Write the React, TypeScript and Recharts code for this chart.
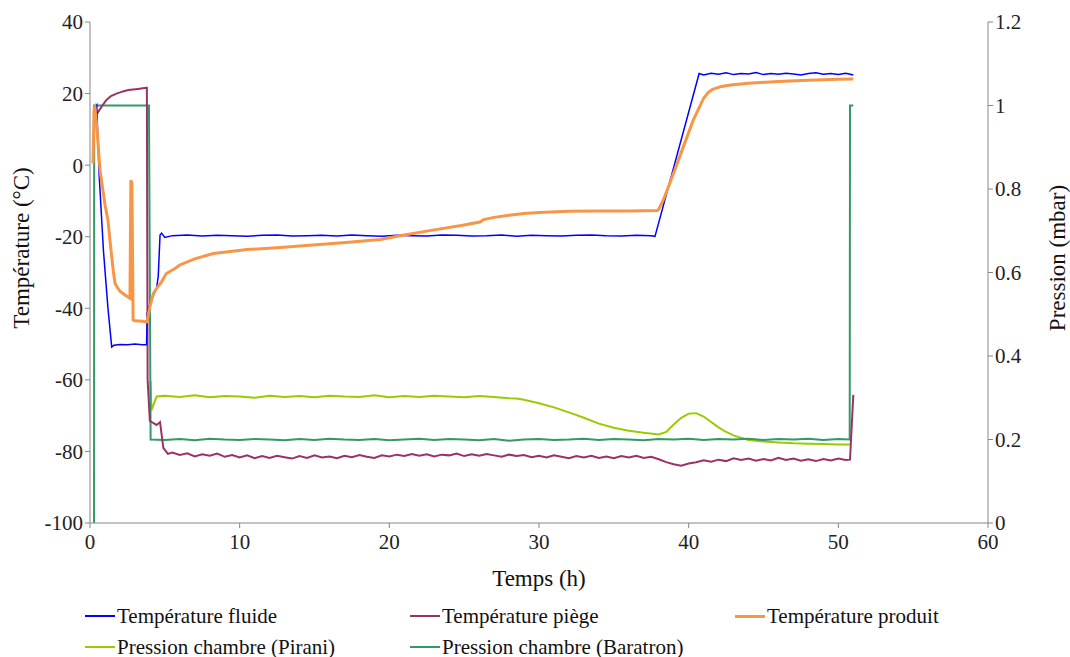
import React from "react";
import { LineChart, Line, XAxis, YAxis } from "recharts";

// [temps (h), valeur]
const fluide: [number, number][] = [
  [0.4, 16.5], [0.45, 16.8], [0.6, -2], [0.9, -24], [1.2, -40], [1.45, -50.8], [1.6, -50.3],
  [2.0, -50.1], [2.5, -50.2], [3.0, -50.0], [3.5, -50.2], [3.78, -50.2], [3.82, -41.5],
  [4.0, -38.7], [4.23, -36.4], [4.45, -34.5], [4.56, -31], [4.68, -19.5], [4.78, -19.0],
  [5.0, -20.2], [5.5, -19.7], [6.5, -19.5], [7.5, -19.8], [8.5, -19.6], [9.5, -19.7],
  [10.5, -19.9], [11.5, -19.6], [12.5, -19.5], [13.5, -19.8], [14.5, -19.7], [15.5, -19.6],
  [16.5, -19.8], [17.5, -19.5], [18.5, -19.7], [19.5, -19.9], [20.5, -19.6], [21.5, -19.7],
  [22.5, -19.8], [23.5, -19.5], [24.5, -19.6], [25.5, -19.8], [26.5, -19.7], [27.5, -19.5],
  [28.5, -19.9], [29.5, -19.6], [30.5, -19.7], [31.5, -19.8], [32.5, -19.6], [33.5, -19.5],
  [34.5, -19.7], [35.5, -19.8], [36.5, -19.6], [37.5, -19.7], [37.75, -19.9],
  [40.7, 25.6], [41, 25.2], [41.5, 25.7], [42, 25.4], [42.5, 25.8], [43, 25.3], [43.5, 25.6],
  [44, 25.5], [44.5, 25.9], [45, 25.3], [45.5, 25.6], [46, 25.4], [46.5, 25.7], [47, 25.5],
  [47.5, 25.2], [48, 25.6], [48.5, 25.8], [49, 25.4], [49.5, 25.6], [50, 25.3], [50.5, 25.7],
  [51, 25.2],
];

const piege: [number, number][] = [
  [0.47, 14.4], [0.8, 16.5], [1.1, 18.2], [1.4, 19.3], [1.77, 20.0], [2.2, 20.6], [2.56, 21.0],
  [3.2, 21.3], [3.74, 21.6], [3.8, 21.6], [3.85, -60], [4.0, -71.5], [4.45, -72.6],
  [4.68, -71.8], [4.9, -79], [5.2, -80.7], [5.5, -80.3], [6, -81.0], [6.5, -80.5], [7, -81.4],
  [7.5, -80.8], [8, -81.2], [8.5, -80.6], [9, -81.5], [9.5, -81.0], [10, -81.7], [10.5, -81.1],
  [11, -81.9], [11.5, -81.3], [12, -81.8], [12.5, -81.2], [13, -81.6], [13.5, -82.0],
  [14, -81.3], [14.5, -81.8], [15, -81.1], [15.5, -81.7], [16, -81.4], [16.5, -81.9],
  [17, -81.2], [17.5, -81.6], [18, -81.0], [18.5, -81.5], [19, -81.8], [19.5, -81.1],
  [20, -81.4], [20.5, -80.9], [21, -81.3], [21.5, -80.7], [22, -81.2], [22.5, -80.8],
  [23, -81.4], [23.5, -80.9], [24, -81.1], [24.5, -80.6], [25, -81.3], [25.5, -80.8],
  [26, -81.2], [26.5, -80.7], [27, -81.1], [27.5, -81.5], [28, -80.9], [28.5, -81.3],
  [29, -81.0], [29.5, -81.6], [30, -81.2], [30.5, -81.7], [31, -81.1], [31.5, -81.5],
  [32, -81.9], [32.5, -81.3], [33, -81.7], [33.5, -81.2], [34, -81.8], [34.5, -81.4],
  [35, -81.9], [35.5, -81.3], [36, -81.7], [36.5, -81.2], [37, -81.8], [37.5, -81.5],
  [38, -82.2], [38.5, -83.0], [39, -83.6], [39.5, -84.0], [40, -83.4], [40.5, -83.0],
  [41, -82.5], [41.5, -82.9], [42, -82.3], [42.5, -82.7], [43, -81.9], [43.5, -82.4],
  [44, -82.0], [44.5, -82.6], [45, -82.1], [45.5, -82.5], [46, -81.8], [46.5, -82.4],
  [47, -82.0], [47.5, -82.6], [48, -82.2], [48.5, -82.7], [49, -82.1], [49.5, -82.5],
  [50, -82.0], [50.5, -82.4], [50.78, -82.3], [51.0, -64.2],
];

const produit: [number, number][] = [
  [0.2, 0.5], [0.27, 15.5], [0.33, 16], [0.45, 11], [0.67, -1.4], [1.0, -11], [1.2, -15.4],
  [1.4, -23.7], [1.55, -29.3], [1.67, -33], [1.8, -34], [2.0, -35.2], [2.34, -36.3],
  [2.67, -37.2], [2.73, -4.2], [2.8, -5], [2.88, -43.3], [3.0, -43.5], [3.5, -43.6],
  [3.8, -43.8], [4.0, -39.6], [4.23, -35.9], [4.45, -34.4], [4.78, -32.6], [5.1, -30.3],
  [5.68, -28.9], [6.0, -27.9], [7.0, -26.2], [8.24, -24.7], [10.5, -23.6], [12.7, -23],
  [14.9, -22.3], [17.1, -21.6], [19.4, -20.8], [20.9, -19.6], [22.7, -18.3], [24.9, -16.8],
  [26.05, -15.9], [26.3, -15.2], [27, -14.6], [28, -14.0], [29, -13.5], [30, -13.2],
  [32, -12.9], [34, -12.8], [36, -12.8], [37.9, -12.7], [38.0, -12.3], [38.3, -9.8],
  [38.7, -5.5], [39.5, 3.5], [40.3, 12.5], [41.0, 18.7], [41.3, 20.3], [41.6, 21.2],
  [42.2, 22], [42.8, 22.4], [44, 22.9], [46, 23.4], [48, 23.7], [50, 24], [51, 24.1],
];

const pirani: [number, number][] = [
  [4.05, 0.34], [4.1, 0.27], [4.45, 0.303], [5, 0.305], [6, 0.302], [7, 0.306], [8, 0.301],
  [9, 0.304], [10, 0.303], [11, 0.3], [12, 0.305], [13, 0.302], [14, 0.304], [15, 0.301],
  [16, 0.305], [17, 0.303], [18, 0.302], [19, 0.306], [20, 0.301], [21, 0.304], [22, 0.302],
  [23, 0.305], [24, 0.303], [25, 0.301], [26, 0.304], [27, 0.302], [28, 0.299],
  [28.5, 0.298], [29, 0.295], [30, 0.287], [31, 0.277], [32, 0.265], [33, 0.252],
  [34, 0.238], [35, 0.228], [36, 0.221], [37, 0.216], [38, 0.212], [38.5, 0.218],
  [39, 0.236], [39.5, 0.252], [40, 0.262], [40.5, 0.263], [41, 0.255], [41.5, 0.242],
  [42, 0.229], [42.5, 0.218], [43, 0.21], [43.5, 0.204], [44, 0.199], [45, 0.195],
  [46, 0.193], [47, 0.191], [48, 0.19], [49, 0.189], [50, 0.188], [50.76, 0.188],
];

const baratron: [number, number][] = [
  [0.27, 0], [0.28, 1.0], [3.94, 1.0], [4.05, 0.2], [5, 0.199], [6, 0.201], [7, 0.198],
  [8, 0.202], [9, 0.2], [10, 0.199], [11, 0.201], [12, 0.2], [13, 0.198], [14, 0.201],
  [15, 0.199], [16, 0.202], [17, 0.2], [18, 0.199], [19, 0.201], [20, 0.198], [21, 0.2],
  [22, 0.202], [23, 0.199], [24, 0.201], [25, 0.2], [26, 0.198], [27, 0.201], [28, 0.197],
  [29, 0.2], [30, 0.201], [31, 0.199], [32, 0.2], [33, 0.202], [34, 0.199], [35, 0.201],
  [36, 0.2], [37, 0.198], [38, 0.201], [39, 0.2], [40, 0.202], [41, 0.199], [42, 0.201],
  [43, 0.2], [44, 0.202], [45, 0.199], [46, 0.201], [47, 0.2], [48, 0.202], [49, 0.199],
  [50, 0.201], [50.76, 0.2], [50.78, 1.0], [51.0, 1.0],
];

const xTicks = [0, 10, 20, 30, 40, 50, 60];
const tempTicks = [-100, -80, -60, -40, -20, 0, 20, 40];
const presTicks = [0, 0.2, 0.4, 0.6, 0.8, 1, 1.2];

const toRows = (pts: [number, number][]) => pts.map(([t, v]) => ({ t, v }));

const FONT = "Liberation Serif, DejaVu Serif, Noto Serif, serif";
const AXIS = "#868686";
const tick = { fill: "#222", fontSize: 21, fontFamily: FONT };

const legendItems = [
  { name: "Température fluide", color: "#0000ff", x: 85, y: 616, w: 1.5 },
  { name: "Température piège", color: "#993366", x: 410, y: 616, w: 1.5 },
  { name: "Température produit", color: "#f79646", x: 735, y: 616, w: 3 },
  { name: "Pression chambre (Pirani)", color: "#99cc00", x: 85, y: 647, w: 1.5 },
  { name: "Pression chambre (Baratron)", color: "#339966", x: 410, y: 647, w: 1.5 },
];

export default function App() {
  return (
    <div style={{ position: "absolute", left: 0, top: 0, width: 1070, height: 657, background: "#fff", fontFamily: FONT }}>
      <LineChart width={1070} height={560} margin={{ top: 22, right: 22, left: 30, bottom: 7 }} style={{ fontFamily: FONT }}>
        <XAxis
          type="number"
          dataKey="t"
          domain={[0, 60]}
          ticks={xTicks}
          tick={tick}
          tickMargin={6}
          stroke={AXIS}
          tickSize={5}
          height={30}
          allowDuplicatedCategory={false}
        />
        <YAxis
          yAxisId="left"
          domain={[-100, 40]}
          ticks={tempTicks}
          tick={tick}
          stroke={AXIS}
          tickSize={5}
          width={60}
        />
        <YAxis
          yAxisId="right"
          orientation="right"
          domain={[0, 1.2]}
          ticks={presTicks}
          tick={tick}
          stroke={AXIS}
          tickSize={5}
          width={60}
        />
        <Line yAxisId="right" data={toRows(pirani)} dataKey="v" stroke="#99cc00" strokeWidth={2} dot={false} isAnimationActive={false} />
        <Line yAxisId="right" data={toRows(baratron)} dataKey="v" stroke="#339966" strokeWidth={2} dot={false} isAnimationActive={false} />
        <Line yAxisId="left" data={toRows(piege)} dataKey="v" stroke="#993366" strokeWidth={2} dot={false} isAnimationActive={false} />
        <Line yAxisId="left" data={toRows(fluide)} dataKey="v" stroke="#0000ff" strokeWidth={1.5} dot={false} isAnimationActive={false} />
        <Line yAxisId="left" data={toRows(produit)} dataKey="v" stroke="#f79646" strokeWidth={3} dot={false} isAnimationActive={false} />
      </LineChart>

      <div style={{ position: "absolute", left: 0, width: 1078, top: 566, textAlign: "center", fontSize: 23, color: "#111" }}>
        Temps (h)
      </div>
      <div style={{ position: "absolute", left: 22, top: 248, transform: "translate(-50%, -50%) rotate(-90deg)", whiteSpace: "nowrap", fontSize: 23, color: "#111" }}>
        Température (°C)
      </div>
      <div style={{ position: "absolute", left: 1058, top: 258, transform: "translate(-50%, -50%) rotate(-90deg)", whiteSpace: "nowrap", fontSize: 23, color: "#111" }}>
        Pression (mbar)
      </div>

      {legendItems.map((it) => (
        <div key={it.name} style={{ position: "absolute", left: it.x, top: it.y - 13, height: 26, display: "flex", alignItems: "center", fontSize: 21, color: "#111", whiteSpace: "nowrap" }}>
          <span style={{ display: "inline-block", width: 30, height: it.w, background: it.color, marginRight: 2 }} />
          {it.name}
        </div>
      ))}
    </div>
  );
}
